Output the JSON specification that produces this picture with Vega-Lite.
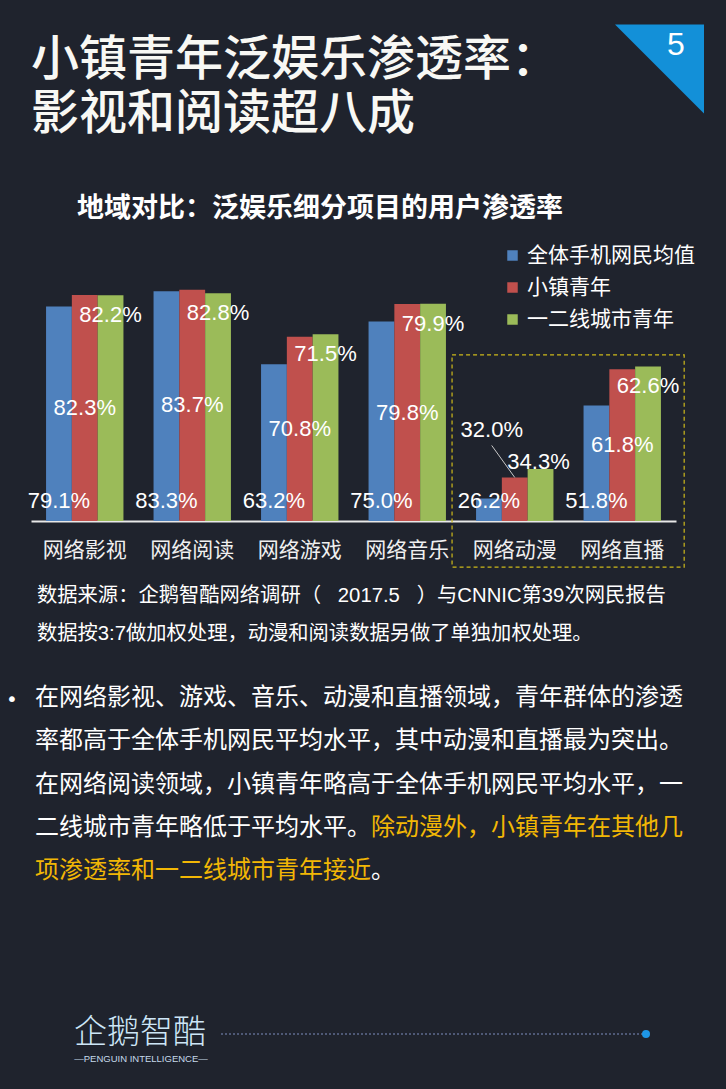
{
  "$schema": "https://vega.github.io/schema/vega-lite/v6.json",
  "width": 645,
  "height": 254,
  "autosize": {"type": "none"},
  "padding": {"left": 31, "top": 267, "right": 50, "bottom": 568},
  "background": "#1f232d",
  "config": {"view": {"stroke": null}, "font": "Noto Sans CJK SC"},
  "title": {
    "text": ["小镇青年泛娱乐渗透率：", "影视和阅读超八成"],
    "subtitle": "\u200b\u2003\u2002\u2009地域对比：泛娱乐细分项目的用户渗透率",
    "anchor": "start",
    "frame": "group",
    "orient": "top",
    "font": "Noto Sans CJK SC",
    "fontSize": 48,
    "fontWeight": 500,
    "color": "#f8f8f4",
    "lineHeight": 54,
    "subtitleFont": "Noto Sans CJK SC",
    "subtitleFontSize": 27,
    "subtitleFontWeight": "bold",
    "subtitleColor": "#ffffff",
    "subtitlePadding": 57,
    "offset": -197
  },
  "datasets": {
    "bars": [
      {"cat": "网络影视", "series": "全体手机网民均值", "v": 0.791},
      {"cat": "网络影视", "series": "小镇青年", "v": 0.823},
      {"cat": "网络影视", "series": "一二线城市青年", "v": 0.822},
      {"cat": "网络阅读", "series": "全体手机网民均值", "v": 0.833},
      {"cat": "网络阅读", "series": "小镇青年", "v": 0.837},
      {"cat": "网络阅读", "series": "一二线城市青年", "v": 0.828},
      {"cat": "网络游戏", "series": "全体手机网民均值", "v": 0.632},
      {"cat": "网络游戏", "series": "小镇青年", "v": 0.708},
      {"cat": "网络游戏", "series": "一二线城市青年", "v": 0.715},
      {"cat": "网络音乐", "series": "全体手机网民均值", "v": 0.750},
      {"cat": "网络音乐", "series": "小镇青年", "v": 0.798},
      {"cat": "网络音乐", "series": "一二线城市青年", "v": 0.799},
      {"cat": "网络动漫", "series": "全体手机网民均值", "v": 0.262},
      {"cat": "网络动漫", "series": "小镇青年", "v": 0.320},
      {"cat": "网络动漫", "series": "一二线城市青年", "v": 0.343},
      {"cat": "网络直播", "series": "全体手机网民均值", "v": 0.518},
      {"cat": "网络直播", "series": "小镇青年", "v": 0.618},
      {"cat": "网络直播", "series": "一二线城市青年", "v": 0.626}
    ],
    "src": [
      {"line": 0, "text": "数据来源：企鹅智酷网络调研（\u00a0\u00a0\u00a02017.5\u00a0\u00a0\u00a0）与CNNIC第39次网民报告"},
      {"line": 1, "text": "数据按3:7做加权处理，动漫和阅读数据另做了单独加权处理。"}
    ],
    "para": [
      {"line": 0, "hl": "n", "part": "s", "text": "在网络影视、游戏、音乐、动漫和直播领域，青年群体的渗透"},
      {"line": 1, "hl": "n", "part": "s", "text": "率都高于全体手机网民平均水平，其中动漫和直播最为突出。"},
      {"line": 2, "hl": "n", "part": "s", "text": "在网络阅读领域，小镇青年略高于全体手机网民平均水平，一"},
      {"line": 3, "hl": "n", "part": "s", "text": "二线城市青年略低于平均水平。"},
      {"line": 3, "hl": "y", "part": "e", "text": "除动漫外，小镇青年在其他几"},
      {"line": 4, "hl": "y", "part": "s", "text": "项渗透率和一二线城市青年接近"},
      {"line": 4, "hl": "n", "part": "e", "text": "。"}
    ]
  },
  "layer": [
    {
      "data": {"name": "bars"},
      "mark": {"type": "bar"},
      "encoding": {
        "x": {
          "field": "cat", "type": "nominal", "sort": null,
          "scale": {"domain": ["网络影视", "网络阅读", "网络游戏", "网络音乐", "网络动漫", "网络直播"], "paddingInner": 0.28, "paddingOuter": 0.14},
          "axis": {"title": null, "ticks": false, "labelAngle": 0, "domainColor": "#e8e8e8", "domainWidth": 2, "labelFont": "Noto Sans CJK SC", "labelFontSize": 21, "labelColor": "#f0f0f0", "labelPadding": 18, "grid": false}
        },
        "xOffset": {"field": "series", "type": "nominal", "sort": null, "scale": {"domain": ["全体手机网民均值", "小镇青年", "一二线城市青年"]}},
        "y": {"field": "v", "type": "quantitative", "scale": {"domain": [0.2, 0.9], "nice": false}, "axis": null},
        "y2": {"datum": 0.2},
        "color": {
          "field": "series", "type": "nominal", "sort": null,
          "scale": {"domain": ["全体手机网民均值", "小镇青年", "一二线城市青年"], "range": ["#4f81bd", "#c0504d", "#9bbb59"]},
          "legend": {"orient": "none", "legendX": 471, "legendY": -22, "title": null, "symbolType": "square", "symbolSize": 110, "symbolStrokeWidth": 0, "labelFont": "Noto Sans CJK SC", "labelFontSize": 21, "labelColor": "#ffffff", "labelOffset": 4, "rowPadding": 10, "padding": 0, "labelLimit": 300}
        }
      }
    },
    {
      "data": {"name": "bars"},
      "transform": [{"filter": "datum.series === '全体手机网民均值'"}],
      "mark": {"type": "text", "dy": -20, "baseline": "middle", "align": "center", "font": "Liberation Sans", "fontSize": 22, "color": "#ffffff"},
      "encoding": {
        "x": {"field": "cat", "type": "nominal", "sort": null},
        "xOffset": {"field": "series", "type": "nominal", "sort": null},
        "y": {"datum": 0.2, "type": "quantitative", "scale": {"domain": [0.2, 0.9], "nice": false}, "axis": null},
        "text": {"field": "v", "type": "quantitative", "format": ".1%"}
      }
    },
    {
      "data": {"name": "bars"},
      "transform": [{"filter": "datum.series === '小镇青年' && datum.cat !== '网络动漫'"}],
      "mark": {"type": "text", "baseline": "middle", "align": "center", "font": "Liberation Sans", "fontSize": 22, "color": "#ffffff"},
      "encoding": {
        "x": {"field": "cat", "type": "nominal", "sort": null},
        "xOffset": {"field": "series", "type": "nominal", "sort": null},
        "y": {"field": "v", "type": "quantitative", "scale": {"domain": [0.2, 1.6], "nice": false}, "axis": null},
        "text": {"field": "v", "type": "quantitative", "format": ".1%"}
      }
    },
    {
      "data": {"name": "bars"},
      "transform": [{"filter": "datum.series === '小镇青年' && datum.cat === '网络动漫'"}],
      "mark": {"type": "text", "dy": -47, "dx": -23, "baseline": "middle", "align": "center", "font": "Liberation Sans", "fontSize": 22, "color": "#ffffff"},
      "encoding": {
        "x": {"field": "cat", "type": "nominal", "sort": null},
        "xOffset": {"field": "series", "type": "nominal", "sort": null},
        "y": {"field": "v", "type": "quantitative", "scale": {"domain": [0.2, 0.9], "nice": false}, "axis": null},
        "text": {"field": "v", "type": "quantitative", "format": ".1%"}
      }
    },
    {
      "data": {"name": "bars"},
      "transform": [{"filter": "datum.series === '小镇青年' && datum.cat === '网络动漫'"}],
      "mark": {"type": "point", "shape": "M0,0L-0.72,-1", "size": 4096, "filled": false, "stroke": "#c8c8c8", "strokeWidth": 1, "opacity": 1},
      "encoding": {
        "x": {"field": "cat", "type": "nominal", "sort": null},
        "xOffset": {"field": "series", "type": "nominal", "sort": null},
        "y": {"field": "v", "type": "quantitative", "scale": {"domain": [0.2, 0.9], "nice": false}, "axis": null}
      }
    },
    {
      "data": {"name": "bars"},
      "transform": [{"filter": "datum.series === '一二线城市青年' && datum.cat !== '网络动漫'"}],
      "mark": {"type": "text", "dy": 20, "baseline": "middle", "align": "center", "font": "Liberation Sans", "fontSize": 22, "color": "#ffffff"},
      "encoding": {
        "x": {"field": "cat", "type": "nominal", "sort": null},
        "xOffset": {"field": "series", "type": "nominal", "sort": null},
        "y": {"field": "v", "type": "quantitative", "scale": {"domain": [0.2, 0.9], "nice": false}, "axis": null},
        "text": {"field": "v", "type": "quantitative", "format": ".1%"}
      }
    },
    {
      "data": {"name": "bars"},
      "transform": [{"filter": "datum.series === '一二线城市青年' && datum.cat === '网络动漫'"}],
      "mark": {"type": "text", "dy": -7, "dx": -2, "baseline": "middle", "align": "center", "font": "Liberation Sans", "fontSize": 22, "color": "#ffffff"},
      "encoding": {
        "x": {"field": "cat", "type": "nominal", "sort": null},
        "xOffset": {"field": "series", "type": "nominal", "sort": null},
        "y": {"field": "v", "type": "quantitative", "scale": {"domain": [0.2, 0.9], "nice": false}, "axis": null},
        "text": {"field": "v", "type": "quantitative", "format": ".1%"}
      }
    },
    {
      "data": {"values": [{"from": "网络动漫", "to": "网络直播"}]},
      "mark": {"type": "rect", "fill": null, "fillOpacity": 0, "stroke": "#cdb91a", "strokeWidth": 1.2, "strokeDash": [4, 3]},
      "encoding": {
        "x": {"field": "from", "type": "nominal", "bandPosition": -0.31},
        "x2": {"field": "to", "bandPosition": 1.3},
        "y": {"datum": 0.658, "type": "quantitative", "scale": {"domain": [0.2, 0.9], "nice": false}, "axis": null},
        "y2": {"datum": 0.073}
      }
    },
    {
      "data": {"name": "src"},
      "mark": {"type": "text", "align": "left", "baseline": "middle", "font": "Liberation Sans, Noto Sans CJK SC", "fontSize": 20.3, "color": "#ffffff"},
      "encoding": {
        "x": {"value": 6},
        "y": {"field": "line", "type": "quantitative", "scale": {"domain": [0, 1], "range": [329, 367], "nice": false, "zero": false}, "axis": null},
        "text": {"field": "text"}
      }
    },
    {
      "data": {"name": "para"},
      "transform": [{"filter": "datum.hl === 'n' && datum.part === 's'"}],
      "mark": {"type": "text", "align": "left", "baseline": "middle", "font": "Noto Sans CJK SC", "fontSize": 24, "color": "#ffffff"},
      "encoding": {
        "x": {"value": 4},
        "y": {"field": "line", "type": "quantitative", "scale": {"domain": [0, 4], "range": [431, 604], "nice": false, "zero": false}, "axis": null},
        "text": {"field": "text"}
      }
    },
    {
      "data": {"name": "para"},
      "transform": [{"filter": "datum.hl === 'y' && datum.part === 's'"}],
      "mark": {"type": "text", "align": "left", "baseline": "middle", "font": "Noto Sans CJK SC", "fontSize": 24, "color": "#f2b705"},
      "encoding": {
        "x": {"value": 4},
        "y": {"field": "line", "type": "quantitative", "scale": {"domain": [0, 4], "range": [431, 604], "nice": false, "zero": false}, "axis": null},
        "text": {"field": "text"}
      }
    },
    {
      "data": {"name": "para"},
      "transform": [{"filter": "datum.hl === 'y' && datum.part === 'e'"}],
      "mark": {"type": "text", "align": "left", "baseline": "middle", "dx": 336, "font": "Noto Sans CJK SC", "fontSize": 24, "color": "#f2b705"},
      "encoding": {
        "x": {"value": 4},
        "y": {"field": "line", "type": "quantitative", "scale": {"domain": [0, 4], "range": [431, 604], "nice": false, "zero": false}, "axis": null},
        "text": {"field": "text"}
      }
    },
    {
      "data": {"name": "para"},
      "transform": [{"filter": "datum.hl === 'n' && datum.part === 'e'"}],
      "mark": {"type": "text", "align": "left", "baseline": "middle", "dx": 336, "font": "Noto Sans CJK SC", "fontSize": 24, "color": "#ffffff"},
      "encoding": {
        "x": {"value": 4},
        "y": {"field": "line", "type": "quantitative", "scale": {"domain": [0, 4], "range": [431, 604], "nice": false, "zero": false}, "axis": null},
        "text": {"field": "text"}
      }
    },
    {
      "data": {"values": [{"t": "•"}]},
      "mark": {"type": "text", "align": "center", "baseline": "middle", "font": "DejaVu Sans", "fontSize": 20, "color": "#ffffff"},
      "encoding": {"x": {"value": -19}, "y": {"value": 433}, "text": {"field": "t"}}
    },
    {
      "data": {"values": [{"t": "5"}]},
      "mark": {"type": "point", "shape": "M-1,-1L1,-1L1,1Z", "size": 7921, "filled": true, "fill": "#1390d8", "strokeWidth": 0, "opacity": 1},
      "encoding": {"x": {"value": 628.5}, "y": {"value": -198}}
    },
    {
      "data": {"values": [{"t": "5"}]},
      "mark": {"type": "text", "align": "center", "baseline": "middle", "font": "Liberation Sans", "fontSize": 32, "color": "#ffffff"},
      "encoding": {"x": {"value": 645}, "y": {"value": -222}, "text": {"field": "t"}}
    },
    {
      "data": {"values": [{"t": "企鹅智酷"}]},
      "mark": {"type": "text", "align": "left", "baseline": "middle", "font": "Noto Sans CJK SC", "fontSize": 33, "fontWeight": 300, "color": "#cde6f7"},
      "encoding": {"x": {"value": 43}, "y": {"value": 766}, "text": {"field": "t"}}
    },
    {
      "data": {"values": [{"t": "—PENGUIN INTELLIGENCE—"}]},
      "mark": {"type": "text", "align": "center", "baseline": "middle", "font": "Liberation Sans", "fontSize": 9.5, "color": "#c5d9ea"},
      "encoding": {"x": {"value": 110}, "y": {"value": 792}, "text": {"field": "t"}}
    },
    {
      "data": {"values": [{"t": "line"}]},
      "mark": {"type": "rule", "stroke": "#7f8fc0", "strokeWidth": 1, "strokeDash": [2, 2]},
      "encoding": {"x": {"value": 190}, "x2": {"value": 615}, "y": {"value": 767}}
    },
    {
      "data": {"values": [{"t": "dot"}]},
      "mark": {"type": "point", "shape": "circle", "size": 64, "filled": true, "fill": "#1e96e6", "opacity": 1, "strokeWidth": 0},
      "encoding": {"x": {"value": 615}, "y": {"value": 767}}
    }
  ],
  "resolve": {"scale": {"y": "independent"}}
}
